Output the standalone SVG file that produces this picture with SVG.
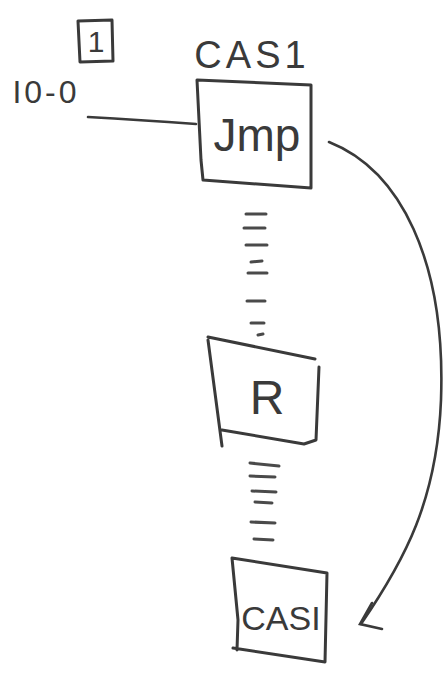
<svg xmlns="http://www.w3.org/2000/svg" width="446" height="675" viewBox="0 0 446 675">
<defs>
<style>
.box{fill:none;stroke:#3a3a3a;stroke-width:3;stroke-linejoin:round;stroke-linecap:round}
.ln{fill:none;stroke:#3a3a3a;stroke-width:2.6;stroke-linecap:round}
.dash{fill:none;stroke:#4a4a4a;stroke-width:3;stroke-linecap:round}
.t{font-family:"Liberation Sans",Arial,sans-serif;fill:#3a3a3a;text-anchor:middle}
</style>
</defs>
<rect width="446" height="675" fill="#ffffff"/>
<g id="label-1">
<path class="box" d="M78 21 L112 20 L113 61 L80 62 Z"/>
<text class="t" x="96" y="52" font-size="30">1</text>
</g>
<text class="t" x="252" y="68" font-size="38" letter-spacing="4">CAS1</text>
<text class="t" x="46" y="103" font-size="32" letter-spacing="3">I0-0</text>
<g id="jmp">
<path class="box" d="M197 80 L311 85 L311 188 L203 180 L201 160 L199 120 Z"/>
<text class="t" x="257" y="151" font-size="46">Jmp</text>
</g>
<g id="r">
<path class="box" d="M208 337 L315 359 M319 367 L316 440 L304 444 L222 430 M208 340 L222 446"/>
<text class="t" x="267" y="414" font-size="48">R</text>
</g>
<g id="cas1">
<path class="box" d="M232 558 L327 573 L325 662 L233 648 M232 558 L238 620 L237 650"/>
<text class="t" x="281" y="630" font-size="34">CASI</text>
</g>
<g id="connectors">
<path class="ln" d="M88 117 Q140 120 196 124"/>
<path class="dash" d="M246 214 L266 214 M244 228 L265 228 M246 245 L267 245 M251 262 L262 261 M248 273 L267 273 M247 301 L265 301 M251 323 L264 323 M258 335 L263 334"/>
<path class="dash" d="M250 463 L279 466 M250 476 L275 477 M252 491 L276 492 M255 502 L272 503 M251 522 L275 523 M254 539 L273 540"/>
<path class="ln" d="M329 142 C400 170 446 260 441 400 C437 500 405 560 361 624"/>
<path class="ln" d="M372 603 L360 624 L382 629"/>
</g>
</svg>
